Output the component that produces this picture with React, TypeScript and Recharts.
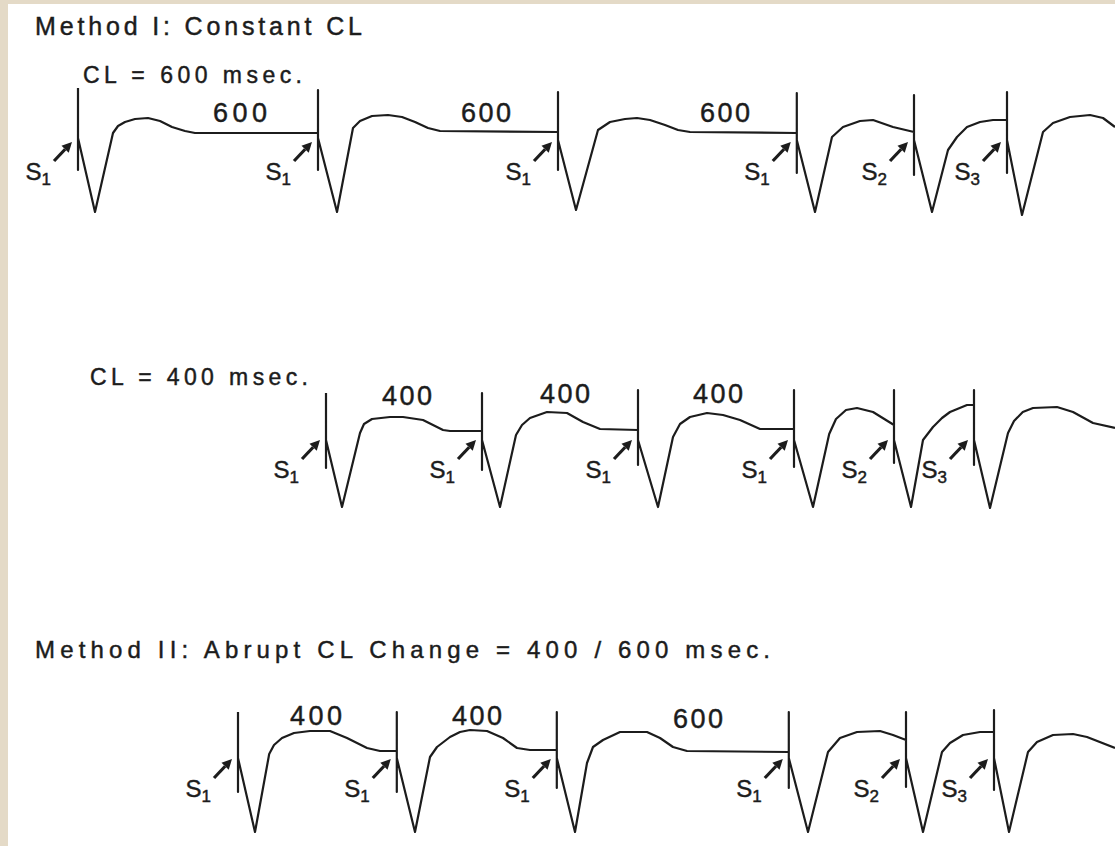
import { Line, LineChart, ReferenceDot, XAxis, YAxis } from 'recharts'

// page geometry
const W = 1115
const H = 846
const INK = '#1c1c1c'
const FONT = '"Liberation Sans", Arial, Helvetica, sans-serif'

// time axis in msec, t = 0 at the first S1 of the top strip
const X_DOMAIN: [number, number] = [-195, 2592.5]

// traces: [time msec, amplitude]
const TRACE_CL600 = [
  [0, 45], [0, -37], [0, -5], [42.5, -79], [87.5, 0], [100, 7], [117.5, 11], [142.5, 14], [175, 15],
  [205, 12], [235, 6], [267.5, 2], [292.5, 0], [600, 0],
  [600, 43], [600, -37], [600, -5], [647.5, -79], [687.5, 5], [705, 12], [735, 17], [775, 18], [810, 16],
  [842.5, 11], [875, 5], [905, 2], [1200, 1],
  [1200, 41], [1200, -37], [1200, -7], [1245, -77], [1300, 3], [1330, 11], [1367.5, 14], [1397.5, 15],
  [1430, 13], [1467.5, 8], [1500, 3], [1530, 1], [1797, 0],
  [1797, 40], [1797, -40], [1797, -7], [1842.5, -79], [1885, -4], [1912.5, 6], [1955, 12], [1987.5, 13],
  [2037.5, 6], [2090, 1],
  [2090, 38], [2090, -42], [2090, -7], [2135, -79], [2175, -17], [2197.5, -4], [2222.5, 6], [2255, 11],
  [2287.5, 13], [2322.5, 13],
  [2322.5, 41], [2322.5, -40], [2322.5, -7], [2360, -82], [2412.5, 1], [2437.5, 10], [2480, 16],
  [2530, 18], [2562.5, 15], [2592.5, 6],
]

const TRACE_CL400 = [
  [620, 38], [620, -37], [620, -9], [660, -76], [705, -2], [715, 7], [735, 12], [780, 14], [812.5, 14],
  [862.5, 11], [912.5, 1], [930, 0], [1010, 0],
  [1010, 38], [1010, -39], [1010, -9], [1055, -76], [1095, -4], [1110, 6], [1130, 13], [1172.5, 19],
  [1222.5, 18], [1262.5, 9], [1305, 2], [1400, 1],
  [1400, 41], [1400, -34], [1400, -9], [1450, -76], [1487.5, -6], [1505, 7], [1530, 14], [1572.5, 18],
  [1612.5, 16], [1655, 11], [1705, 2], [1790, 2],
  [1790, 41], [1790, -36], [1790, -9], [1837.5, -76], [1878, -3], [1895, 12], [1920, 21], [1947.5, 23],
  [1987.5, 19], [2040, 6],
  [2040, 41], [2040, -32], [2040, -9], [2082.5, -76], [2112.5, -9], [2137.5, 4], [2160, 13], [2180, 19],
  [2222.5, 26], [2240, 26],
  [2240, 41], [2240, -34], [2240, -9], [2280, -77], [2325, -2], [2340, 10], [2362, 19], [2387.5, 23],
  [2447.5, 24], [2487.5, 19], [2537.5, 8], [2592.5, 3],
]

const TRACE_ABRUPT = [
  [400, 38], [400, -42], [400, -8], [442.5, -82], [478, -4], [490, 5], [510, 12], [540, 17], [580, 19],
  [630, 19], [672.5, 12], [722.5, 2], [755, -1], [797, -1],
  [797, 38], [797, -42], [797, -8], [842.5, -82], [880, -7], [897.5, 3], [930, 13], [955, 18], [980, 20],
  [1022.5, 19], [1062.5, 12], [1097.5, 2], [1130, 0], [1197, 0],
  [1197, 38], [1197, -38], [1197, -8], [1242.5, -82], [1272.5, -13], [1287.5, 3], [1312.5, 10],
  [1355, 18], [1422.5, 18], [1455, 12], [1487.5, 3], [1522.5, -1], [1777, -2],
  [1777, 38], [1777, -38], [1777, -8], [1825, -82], [1875, -2], [1905, 12], [1947.5, 18], [2005, 19],
  [2037.5, 15], [2070, 10],
  [2070, 38], [2070, -37], [2070, -8], [2112.5, -82], [2160, -2], [2180, 7], [2212.5, 15], [2255, 18],
  [2290, 18],
  [2290, 40], [2290, -40], [2290, -8], [2327.5, -82], [2375, -2], [2397.5, 8], [2437.5, 15],
  [2487.5, 16], [2522.5, 13], [2592.5, 2],
]

// stimulus times and their index (S1, S2, S3)
const STIM_CL600 = [[0, 1], [600, 1], [1200, 1], [1797, 1], [2090, 2], [2322.5, 3]]
const STIM_CL400 = [[620, 1], [1010, 1], [1400, 1], [1790, 1], [2040, 2], [2240, 3]]
const STIM_ABRUPT = [[400, 1], [797, 1], [1197, 1], [1777, 1], [2070, 2], [2290, 3]]

// interval labels: [time, amplitude, text, width px]
const LABELS_CL600: [number, number, string, number][] = [
  [405, 11, '600', 54], [1020, 11, '600', 50], [1617.5, 11, '600', 50],
]
const LABELS_CL400: [number, number, string, number][] = [
  [822.5, 26, '400', 50], [1217.5, 28, '400', 50], [1600, 28, '400', 50],
]
const LABELS_ABRUPT: [number, number, string, number][] = [
  [595, 25, '400', 52], [997.5, 25, '400', 50], [1550, 22, '600', 50],
]

// slight outline so text reads as heavy as the printed figure
const TEXT_WEIGHT = { stroke: INK, strokeWidth: 0.45 }

function StimMark({ cx, cy, n }: { cx: number; cy: number; n: number }) {
  const tip = { x: cx - 6, y: cy + 9 }
  const tail = { x: cx - 24, y: cy + 28 }
  const dx = tip.x - tail.x
  const dy = tip.y - tail.y
  const len = Math.hypot(dx, dy)
  const ux = dx / len
  const uy = dy / len
  const bx = tip.x - ux * 10
  const by = tip.y - uy * 10
  const px = -uy * 5
  const py = ux * 5
  return (
    <g>
      <line x1={tail.x} y1={tail.y} x2={bx} y2={by} stroke={INK} strokeWidth={3.2} />
      <polygon points={`${tip.x},${tip.y} ${bx + px},${by + py} ${bx - px},${by - py}`} fill={INK} />
      <text x={cx - 27} y={cy + 47} textAnchor="end" fontFamily={FONT} fontSize={24} fill={INK} {...TEXT_WEIGHT}>
        S<tspan fontSize={17} dy={5}>{n}</tspan>
      </text>
    </g>
  )
}

interface StripProps {
  top: number
  height: number
  baseline: number
  trace: number[][]
  stimuli: number[][]
  labels: [number, number, string, number][]
}

function Strip({ top, height, baseline, trace, stimuli, labels }: StripProps) {
  const data = trace.map(([t, v]) => ({ t, v }))
  const yMax = baseline - top
  const yMin = baseline - (top + height)
  return (
    <div style={{ position: 'absolute', left: 0, top }}>
      <LineChart width={W} height={height} data={data} margin={{ top: 0, right: 0, bottom: 0, left: 0 }}>
        <XAxis dataKey="t" type="number" domain={X_DOMAIN} allowDataOverflow hide />
        <YAxis type="number" domain={[yMin, yMax]} allowDataOverflow hide />
        <Line
          dataKey="v"
          type="linear"
          stroke={INK}
          strokeWidth={2.2}
          strokeLinejoin="round"
          dot={false}
          isAnimationActive={false}
        />
        {labels.map(([t, v, text, w], i) => (
          <ReferenceDot
            key={`l${i}`}
            x={t}
            y={v}
            shape={(p: any) => (
              <text
                x={p.cx - w / 2}
                y={p.cy}
                fontFamily={FONT}
                fontSize={27}
                fill={INK}
                textLength={w}
                lengthAdjust="spacing"
                {...TEXT_WEIGHT}
              >
                {text}
              </text>
            )}
          />
        ))}
        {stimuli.map(([t, n], i) => (
          <ReferenceDot key={`s${i}`} x={t} y={0} shape={(p: any) => <StimMark cx={p.cx} cy={p.cy} n={n} />} />
        ))}
      </LineChart>
    </div>
  )
}

export default function App() {
  return (
    <div style={{ position: 'absolute', left: 0, top: 0, width: W, height: H, background: '#e4dac7', overflow: 'hidden' }}>
      <div style={{ position: 'absolute', left: 8, top: 4, width: W - 8, height: H - 4, background: '#ffffff' }} />
      <Strip top={60} height={180} baseline={133} trace={TRACE_CL600} stimuli={STIM_CL600} labels={LABELS_CL600} />
      <Strip top={370} height={160} baseline={431} trace={TRACE_CL400} stimuli={STIM_CL400} labels={LABELS_CL400} />
      <Strip top={680} height={166} baseline={750} trace={TRACE_ABRUPT} stimuli={STIM_ABRUPT} labels={LABELS_ABRUPT} />
      <svg width={W} height={H} style={{ position: 'absolute', left: 0, top: 0, pointerEvents: 'none' }}>
        <g fontFamily={FONT} fill={INK} {...TEXT_WEIGHT}>
          <text x={35} y={35} fontSize={25} textLength={327} lengthAdjust="spacing">Method I: Constant CL</text>
          <text x={83} y={83} fontSize={23} textLength={219} lengthAdjust="spacing">CL = 600 msec.</text>
          <text x={90} y={385} fontSize={23} textLength={218} lengthAdjust="spacing">CL = 400 msec.</text>
          <text x={35} y={658} fontSize={24} textLength={735} lengthAdjust="spacing">
            Method II: Abrupt CL Change =  400 / 600 msec.
          </text>
        </g>
      </svg>
    </div>
  )
}
